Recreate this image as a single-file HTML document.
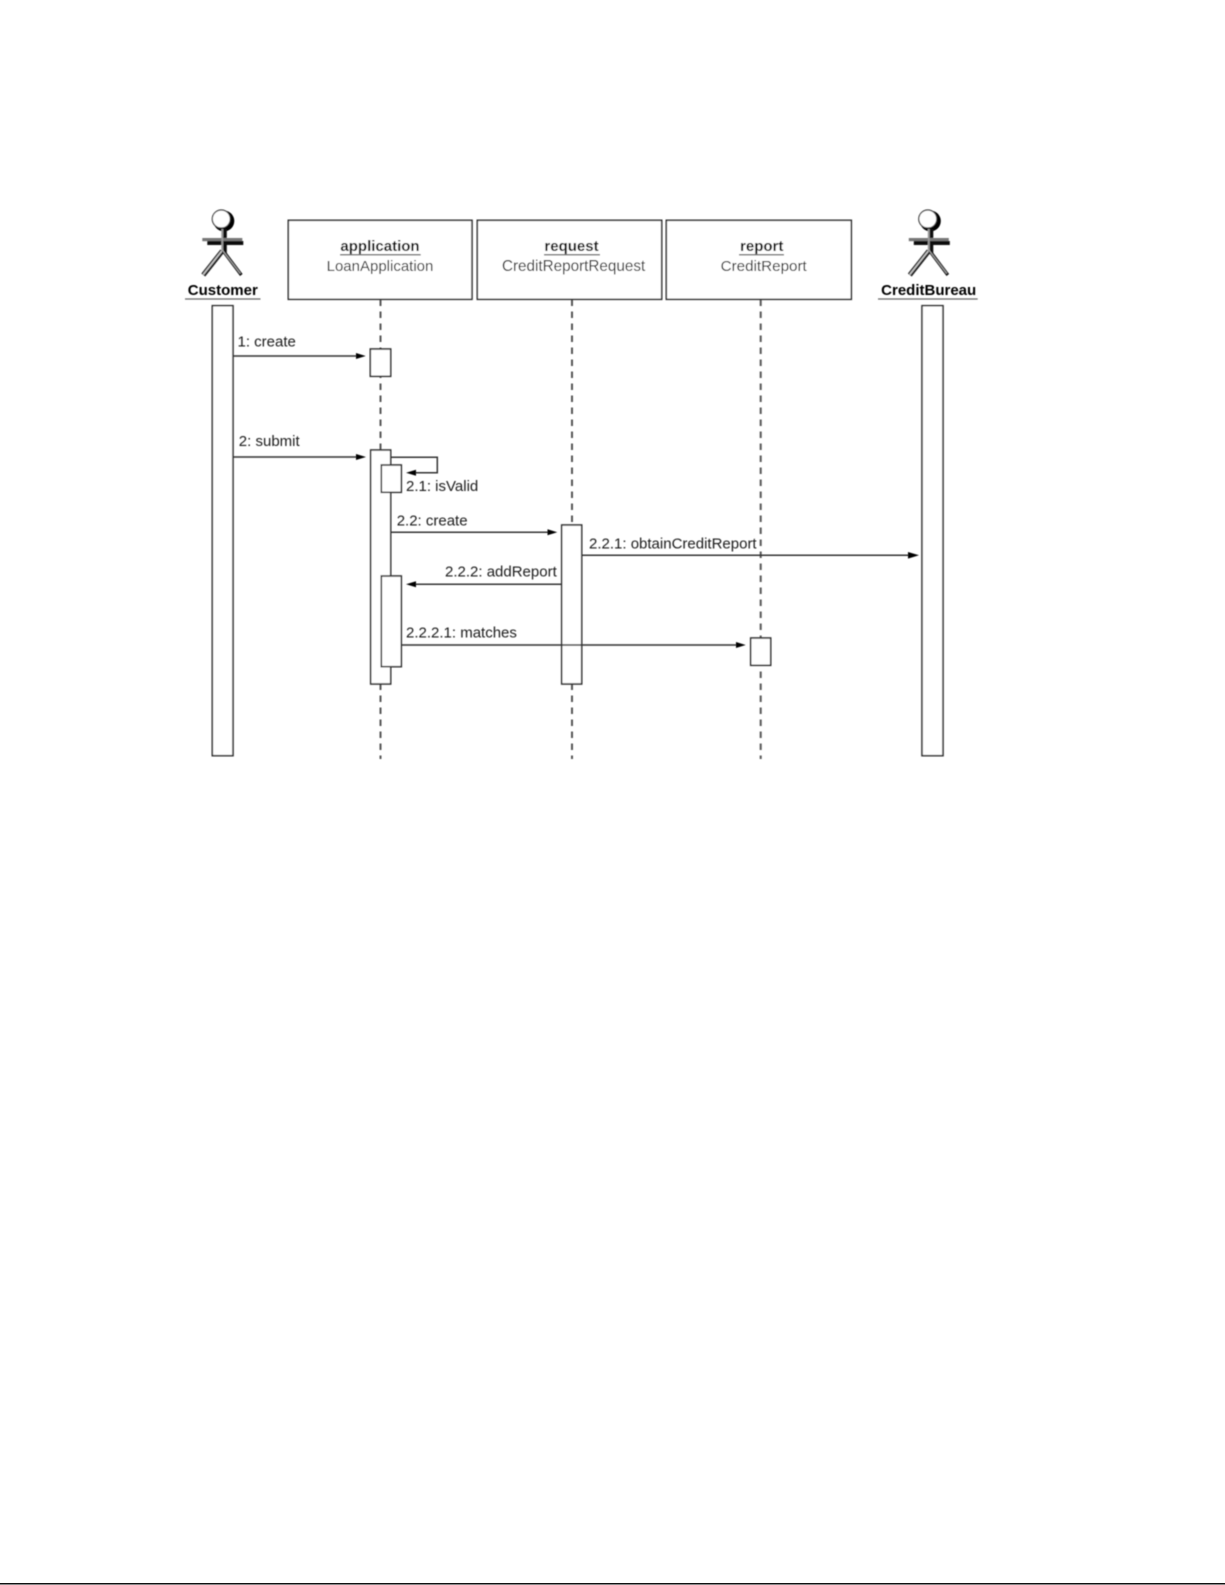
<!DOCTYPE html>
<html>
<head>
<meta charset="utf-8">
<style>
html,body{margin:0;padding:0;background:#fff;width:1225px;height:1585px;overflow:hidden}
svg{display:block;position:absolute;left:0;top:0}
text{font-family:"Liberation Sans",Arial,Helvetica,sans-serif;font-size:15px;fill:#1c1c1c}
.b{font-weight:bold;font-size:15px;fill:#000}
.m{text-anchor:middle}
.box{fill:#fff;stroke:#333;stroke-width:1.6}
.ln{fill:none;stroke:#333;stroke-width:1.5}
.u{stroke:#666;stroke-width:1.3}
.d{stroke:#555;stroke-width:2;stroke-dasharray:6.5 5.5;fill:none}
.ah{fill:#000;stroke:none}
</style>
</head>
<body>
<svg width="1225" height="1585" viewBox="0 0 1225 1585" xmlns="http://www.w3.org/2000/svg">
<defs>
<filter id="s" x="-5%" y="-5%" width="110%" height="110%"><feGaussianBlur stdDeviation="0.4"/></filter>
<g id="actor">
  <!-- shadow -->
  <circle cx="1.6" cy="1" r="10.4" fill="#000"/>
  <rect x="0.5" y="9" width="4" height="24" fill="#111"/>
  <!-- arms -->
  <rect x="-20" y="18" width="40" height="3.2" fill="#777"/>
  <rect x="-15" y="21" width="36" height="4" fill="#111"/>
  <!-- vertical light stripe -->
  <rect x="-1" y="9" width="2" height="24" fill="#999"/>
  <!-- legs -->
  <path d="M0 31L-19 55" stroke="#222" stroke-width="5" fill="none"/>
  <path d="M-0.5 31L-19 54.5" stroke="#ccc" stroke-width="1.5" fill="none"/>
  <path d="M1 31L19 55" stroke="#111" stroke-width="3.2" fill="none"/>
  <path d="M0 30L18 53.5" stroke="#bbb" stroke-width="0.9" fill="none"/>
  <!-- head -->
  <circle cx="-1" cy="-1" r="9" fill="#fff" stroke="#333" stroke-width="1.2"/>
</g>
</defs>

<g filter="url(#s)">
  <!-- lifelines -->
  <path class="d" d="M380.5 299.5V759"/>
  <path class="d" d="M572 299.5V759"/>
  <path class="d" d="M760.7 299.5V759"/>

  <!-- object boxes -->
  <rect class="box" x="288.3" y="220.3" width="183.7" height="79"/>
  <rect class="box" x="477.3" y="220.3" width="184.4" height="79"/>
  <rect class="box" x="666.3" y="220.3" width="185" height="79"/>

  <text class="b m" x="380" y="251">application</text>
  <line class="u" x1="340" y1="254.8" x2="420.7" y2="254.8"/>
  <text class="m" x="380" y="271">LoanApplication</text>

  <text class="b m" x="571.5" y="251">request</text>
  <line class="u" x1="544" y1="254.8" x2="600" y2="254.8"/>
  <text class="m" x="573.6" y="271" style="font-size:15.25px">CreditReportRequest</text>

  <text class="b m" x="761.7" y="251">report</text>
  <line class="u" x1="739" y1="254.8" x2="784" y2="254.8"/>
  <text class="m" x="763.7" y="271" style="font-size:15.2px">CreditReport</text>

  <!-- actors -->
  <use href="#actor" x="222.3" y="220"/>
  <text class="b m" x="222.8" y="295">Customer</text>
  <line class="u" x1="185" y1="299" x2="260.5" y2="299"/>

  <use href="#actor" x="928.8" y="220"/>
  <text class="b m" x="928.7" y="295">CreditBureau</text>
  <line class="u" x1="878" y1="299" x2="977.7" y2="299"/>

  <!-- actor bars -->
  <rect class="box" x="212.3" y="305.7" width="20.7" height="450"/>
  <rect class="box" x="922" y="305.7" width="21" height="450"/>

  <!-- activations -->
  <rect class="box" x="370.3" y="349" width="20.4" height="27.3"/>
  <rect class="box" x="370.7" y="450" width="20" height="234"/>
  <rect class="box" x="381.3" y="465" width="20" height="27.3"/>
  <rect class="box" x="381.3" y="576" width="20" height="90.7"/>
  <rect class="box" x="561.7" y="525" width="20" height="159"/>
  <rect class="box" x="750.7" y="638" width="20" height="27.3"/>

  <!-- messages -->
  <path class="ln" d="M233 356H358"/>
  <path class="ah" d="M365.7 356L356 353V359Z"/>
  <text x="237.5" y="346.7">1: create</text>

  <path class="ln" d="M233 457H358"/>
  <path class="ah" d="M366 457L356 454V460Z"/>
  <text x="238.8" y="446">2: submit</text>

  <path class="ln" d="M390.7 457.3H437.3V472.7H412"/>
  <path class="ah" d="M406 472.7L416 469.7V475.7Z"/>
  <text x="406" y="491">2.1: isValid</text>

  <path class="ln" d="M390.7 532.3H550"/>
  <path class="ah" d="M557.3 532.3L547.5 529.3V535.3Z"/>
  <text x="396.7" y="525.7">2.2: create</text>

  <path class="ln" d="M581.7 555.3H912"/>
  <path class="ah" d="M919 555.3L908 552V558.6Z"/>
  <text x="589" y="548.3">2.2.1: obtainCreditReport</text>

  <path class="ln" d="M561.7 584.3H412"/>
  <path class="ah" d="M406 584.3L416 581.3V587.3Z"/>
  <text x="445" y="576.7">2.2.2: addReport</text>

  <path class="ln" d="M401.3 645H738"/>
  <path class="ah" d="M745.7 645L736 642V648Z"/>
  <text x="406" y="637.7">2.2.2.1: matches</text>
</g>

<!-- page bottom rule -->
<rect x="0" y="1583" width="1225" height="1.5" fill="#111"/>
</svg>
</body>
</html>
